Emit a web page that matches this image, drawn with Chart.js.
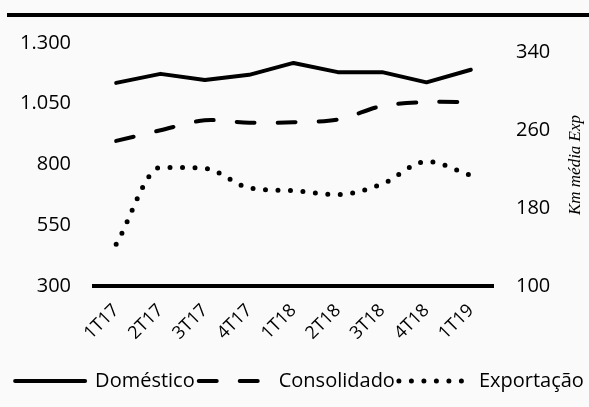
<!DOCTYPE html>
<html>
<head>
<meta charset="utf-8">
<script src="https://cdn.jsdelivr.net/npm/chart.js@4/dist/chart.umd.min.js"></script>
<style>
  html, body { margin: 0; padding: 0; background: #fafafa; }
  #wrap { width: 589px; height: 407px; position: relative; }
</style>
</head>
<body>
<div id="wrap"><canvas id="c" width="589" height="407"></canvas></div>
<script>
// Quarters shown on the category axis
const quarters = ['1T17', '2T17', '3T17', '4T17', '1T18', '2T18', '3T18', '4T18', '1T19'];
// Left-axis series
const domestico = [1136, 1173, 1148, 1169, 1218, 1180, 1180, 1138, 1190];
const consolidado = [897, 941, 982, 972, 974, 985, 1041, 1057, 1057];
// Right-axis series (average km, export)
const exportacao = [143, 222, 221, 201, 198, 194, 205, 228, 214];
// Tick values for both value axes
const leftTicks = [300, 550, 800, 1050, 1300];
const rightTicks = [100, 180, 260, 340];
const rightTitle = 'Km média Exp';

const FONT = "'Open Sans', 'Noto Sans', sans-serif";

// Heavy rule across the top and the rotated right-hand axis title
const decor = {
  id: 'decor',
  beforeDraw(chart) {
    const ctx = chart.ctx;
    ctx.save();
    ctx.fillStyle = '#fafafa';
    ctx.fillRect(0, 0, chart.width, chart.height);
    ctx.fillStyle = '#000';
    ctx.fillRect(7, 13, chart.width - 7, 4);
    ctx.restore();
  },
  afterDraw(chart) {
    const ctx = chart.ctx;
    ctx.save();
    ctx.translate(576, 165);
    ctx.rotate(-Math.PI / 2);
    ctx.font = "italic 17px 'Liberation Serif', 'DejaVu Serif', serif";
    ctx.fillStyle = '#000';
    ctx.textAlign = 'center';
    ctx.textBaseline = 'middle';
    ctx.fillText(rightTitle, 0, 0);
    ctx.restore();
  }
};

const fmt = v => v.toLocaleString('pt-BR');

new Chart(document.getElementById('c'), {
  type: 'line',
  data: {
    labels: quarters,
    datasets: [
      {
        label: 'Doméstico',
        data: domestico,
        yAxisID: 'y',
        borderColor: '#000',
        backgroundColor: '#000',
        borderWidth: 4,
        borderCapStyle: 'round',
        borderJoinStyle: 'round',
        pointRadius: 0,
        tension: 0
      },
      {
        label: 'Consolidado',
        data: consolidado,
        yAxisID: 'y',
        borderColor: '#000',
        backgroundColor: '#000',
        borderWidth: 4,
        borderDash: [18, 23],
        borderCapStyle: 'round',
        borderJoinStyle: 'round',
        pointRadius: 0,
        tension: 0.3
      },
      {
        label: 'Exportação',
        data: exportacao,
        yAxisID: 'y2',
        borderColor: '#000',
        backgroundColor: '#000',
        borderWidth: 5,
        borderDash: [0, 12.5],
        borderCapStyle: 'round',
        borderJoinStyle: 'round',
        pointRadius: 0,
        cubicInterpolationMode: 'monotone'
      }
    ]
  },
  options: {
    responsive: false,
    animation: false,
    devicePixelRatio: 1,
    layout: { padding: { top: 43, left: 10, right: 0, bottom: 6 } },
    plugins: {
      tooltip: { enabled: false },
      legend: {
        position: 'bottom',
        labels: {
          usePointStyle: true,
          pointStyle: 'line',
          pointStyleWidth: 70,
          boxHeight: 20,
          padding: 4,
          color: '#000',
          font: { family: FONT, size: 20 },
          generateLabels(chart) {
            const items = Chart.defaults.plugins.legend.labels.generateLabels(chart);
            items.forEach(item => {
              const ds = chart.data.datasets[item.datasetIndex];
              item.lineDash = ds.borderDash || [];
              item.lineCap = 'round';
              item.lineWidth = ds.borderWidth;
              item.strokeStyle = ds.borderColor;
              item.pointStyle = 'line';
            });
            return items;
          }
        }
      }
    },
    scales: {
      x: {
        offset: true,
        grid: { display: false, drawTicks: false },
        border: { display: true, color: '#000', width: 4 },
        ticks: {
          color: '#000',
          font: { family: FONT, size: 18 },
          minRotation: 45,
          maxRotation: 45,
          padding: 14,
          autoSkip: false
        },
        afterFit(scale) { scale.height = 81; }
      },
      y: {
        position: 'left',
        min: 300,
        max: 1300,
        grid: { display: false, drawTicks: false },
        border: { display: false },
        ticks: {
          color: '#000',
          font: { family: FONT, size: 20 },
          padding: 23,
          callback: v => fmt(v)
        },
        afterBuildTicks(scale) { scale.ticks = leftTicks.map(v => ({ value: v })); },
        afterFit(scale) { scale.width = 84; }
      },
      y2: {
        position: 'right',
        min: 100,
        max: 350,
        grid: { display: false, drawTicks: false },
        border: { display: false },
        ticks: {
          color: '#000',
          font: { family: FONT, size: 20 },
          padding: 23,
          callback: v => fmt(v)
        },
        afterBuildTicks(scale) { scale.ticks = rightTicks.map(v => ({ value: v })); },
        afterFit(scale) { scale.width = 96; }
      }
    }
  },
  plugins: [decor]
});
</script>
</body>
</html>
